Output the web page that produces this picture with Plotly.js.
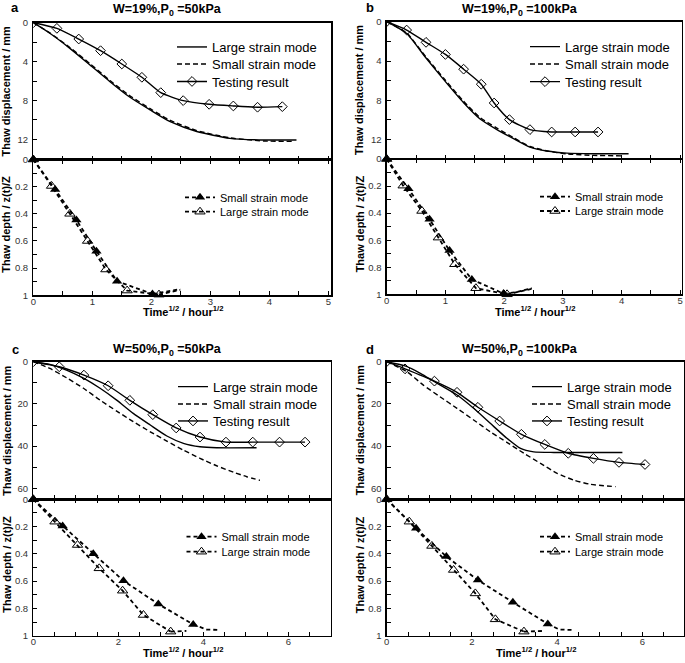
<!DOCTYPE html>
<html><head><meta charset="utf-8">
<script src="https://cdn.plot.ly/plotly-3.0.1.min.js"></script>
<style>html,body{margin:0;padding:0;background:#fff}#chart{width:685px;height:663px}</style>
</head><body><div id="chart"></div>
<script>
// ================= DATA =================
// Panel a: W=19%, P0=50kPa
const a_top_large_x = [0,0.28,0.62,0.96,1.30,1.62,1.98,2.32,2.77,3.33,3.9,4.46];
const a_top_large_y = [0,1.09,2.64,4.35,6.07,7.6,8.98,10.19,11.2,11.9,12.07,12.07];
const a_top_small_x = [0,0.28,0.62,0.96,1.30,1.62,1.98,2.32,2.77,3.33,3.9,4.41];
const a_top_small_y = [0,1.05,2.55,4.22,5.95,7.45,8.85,10.05,11.1,11.85,12.17,12.22];
const a_test_x = [0,0.40,0.77,1.14,1.50,1.84,2.16,2.54,2.98,3.39,3.80,4.22];
const a_test_y = [0,0.58,1.68,2.88,4.25,5.62,7.2,8.02,8.4,8.57,8.7,8.64];
const a_bot_small_x = [0,0.37,0.73,1.07,1.42,2.02];
const a_bot_small_y = [0,0.22,0.445,0.675,0.897,0.99];
const a_bot_small_ext_x = [2.02,2.25,2.49];
const a_bot_small_ext_y = [0.99,0.975,0.955];
const a_bot_large_x = [0,0.31,0.62,0.92,1.23,1.59,2.13];
const a_bot_large_y = [0,0.195,0.40,0.60,0.81,0.965,0.995];
const a_bot_large_ext_x = [2.13,2.49];
const a_bot_large_ext_y = [0.995,0.96];

// Panel b: W=19%, P0=100kPa
const b_top_large_x = [0,0.34,0.67,1.0,1.31,1.59,1.87,2.16,2.44,2.73,3.07,3.52,4.12];
const b_top_large_y = [0,1.2,3.7,6.1,8.25,9.9,10.95,11.9,12.76,13.16,13.37,13.43,13.43];
const b_top_small_x = [0,0.34,0.67,1.0,1.31,1.59,1.87,2.16,2.44,2.73,3.07,3.52,4.03];
const b_top_small_y = [0,1.15,3.6,5.95,8.1,9.75,10.8,11.8,12.7,13.15,13.45,13.6,13.65];
const b_test_x = [0,0.34,0.67,1.0,1.31,1.61,1.83,2.09,2.44,2.81,3.21,3.6];
const b_test_y = [0,0.85,2.1,3.33,4.83,6.36,8.27,9.96,10.98,11.22,11.22,11.22];
const b_bot_small_x = [0,0.37,0.73,1.07,1.45,1.99];
const b_bot_small_y = [0,0.22,0.446,0.677,0.89,0.995];
const b_bot_small_ext_x = [1.99,2.2,2.47];
const b_bot_small_ext_y = [0.995,0.985,0.955];
const b_bot_large_x = [0,0.28,0.6,0.88,1.16,1.52,2.05];
const b_bot_large_y = [0,0.197,0.384,0.581,0.778,0.955,1.0];
const b_bot_large_ext_x = [2.05,2.47];
const b_bot_large_ext_y = [1.0,0.96];

// Panel c: W=50%, P0=50kPa
const c_top_large_x = [0,0.39,0.78,1.18,1.57,1.96,2.35,2.75,3.14,3.53,3.92,4.31,5.25];
const c_top_large_y = [0,1.3,3.95,7.8,12.6,18.2,24.5,30,35.2,38.7,40.3,40.8,40.8];
const c_top_small_x = [0,0.39,0.78,1.18,1.57,1.96,2.35,2.75,3.14,3.53,3.92,4.31,4.71,5.02,5.33];
const c_top_small_y = [0,3.2,7.6,12.6,18.2,23.4,28.4,33.2,37.6,41.9,45.8,49.3,52.4,54.5,56.2];
const c_test_x = [0,0.61,1.19,1.76,2.27,2.81,3.36,3.92,4.53,5.16,5.79,6.39];
const c_test_y = [0,2.4,6.35,11.4,18.3,25.1,31.4,35.7,38.1,38.1,38.1,38.1];
const c_bot_small_x = [0,0.69,1.41,2.12,2.94,3.76];
const c_bot_small_y = [0,0.196,0.40,0.597,0.768,0.917];
const c_bot_small_ext_x = [3.76,4.08,4.39];
const c_bot_small_ext_y = [0.917,0.955,0.958];
const c_bot_large_x = [0,0.51,1.04,1.55,2.1,2.59,3.23];
const c_bot_large_y = [0,0.164,0.335,0.506,0.67,0.848,0.97];
const c_bot_large_ext_x = [3.23,3.6];
const c_bot_large_ext_y = [0.97,0.965];

// Panel d: W=50%, P0=100kPa
const d_top_large_x = [0,0.43,0.8,1.12,1.65,2.04,2.43,2.82,3.14,3.45,3.92,5.53];
const d_top_large_y = [0,2.0,5.6,9.5,15.8,22.1,29.2,36.3,41.1,42.7,43,43];
const d_top_small_x = [0,0.47,0.86,1.25,1.65,2.04,2.43,2.82,3.22,3.61,4.0,4.39,4.78,5.37];
const d_top_small_y = [0,4.7,11.1,16.6,22.1,27.6,33.2,38.2,43.4,48.2,52.9,56.1,58.1,59.2];
const d_test_x = [0,0.43,1.12,1.65,2.14,2.65,3.16,3.71,4.26,4.85,5.45,6.06];
const d_test_y = [0,3.4,9.2,14.5,21.6,28.1,34.4,39.2,43.4,45.8,47.7,48.7];
const d_bot_small_x = [0,0.69,1.4,2.14,2.96,3.78];
const d_bot_small_y = [0,0.213,0.42,0.592,0.755,0.914];
const d_bot_small_ext_x = [3.78,4.05,4.39];
const d_bot_small_ext_y = [0.914,0.955,0.958];
const d_bot_large_x = [0,0.53,1.06,1.57,2.08,2.55,3.22];
const d_bot_large_y = [0,0.164,0.342,0.518,0.69,0.88,0.97];
const d_bot_large_ext_x = [3.22,3.7];
const d_bot_large_ext_y = [0.97,0.965];

// Tick definitions
const ticks_x5 = [0,0.5,1,1.5,2,2.5,3,3.5,4,4.5,5];
const labels_x5 = ['0','','1','','2','','3','','4','','5'];
const ticks_x7 = [0,0.5,1,1.5,2,2.5,3,3.5,4,4.5,5,5.5,6,6.5,7];
const labels_x7 = ['0','','','','2','','','','4','','','','6','',''];
const ticks_y14 = [0,2,4,6,8,10,12,14];
const labels_y14 = ['0','','4','','8','','12',''];
const ticks_y60 = [0,10,20,30,40,50,60];
const labels_y60 = ['0','','20','','40','','60'];
const ticks_depth = [0,0.1,0.2,0.3,0.4,0.5,0.6,0.7,0.8,0.9,1];
const labels_depth = ['0','','0.2','','0.4','','0.6','','0.8','','1'];

const panel_titles = ['W=19%,P<sub>0</sub> =50kPa','W=19%,P<sub>0</sub> =100kPa','W=50%,P<sub>0</sub> =50kPa','W=50%,P<sub>0</sub> =100kPa'];
const panel_letters = ['a','b','c','d'];
const name_large = 'Large strain mode';
const name_small = 'Small strain mode';
const name_test = 'Testing result';
const ytitle_top = 'Thaw displacement / mm';
const ytitle_bot = 'Thaw depth / z(t)/Z';
const xtitle = 'Time<sup>1/2</sup> / hour<sup>1/2</sup>';

// ================= LAYOUT GEOMETRY (pixels) =================
const W = 685, H = 663;
const px = v => v / W;
const py = v => 1 - v / H;
const FONT = 'Liberation Sans, Arial, sans-serif';
const DASH_TOP = '5px,3px';
const DASH_BOT = '4px,3px';

const data = {
  a: {tl:[a_top_large_x,a_top_large_y], ts:[a_top_small_x,a_top_small_y], tt:[a_test_x,a_test_y],
      bs:[a_bot_small_x,a_bot_small_y], bse:[a_bot_small_ext_x,a_bot_small_ext_y],
      bl:[a_bot_large_x,a_bot_large_y], ble:[a_bot_large_ext_x,a_bot_large_ext_y]},
  b: {tl:[b_top_large_x,b_top_large_y], ts:[b_top_small_x,b_top_small_y], tt:[b_test_x,b_test_y],
      bs:[b_bot_small_x,b_bot_small_y], bse:[b_bot_small_ext_x,b_bot_small_ext_y],
      bl:[b_bot_large_x,b_bot_large_y], ble:[b_bot_large_ext_x,b_bot_large_ext_y]},
  c: {tl:[c_top_large_x,c_top_large_y], ts:[c_top_small_x,c_top_small_y], tt:[c_test_x,c_test_y],
      bs:[c_bot_small_x,c_bot_small_y], bse:[c_bot_small_ext_x,c_bot_small_ext_y],
      bl:[c_bot_large_x,c_bot_large_y], ble:[c_bot_large_ext_x,c_bot_large_ext_y]},
  d: {tl:[d_top_large_x,d_top_large_y], ts:[d_top_small_x,d_top_small_y], tt:[d_test_x,d_test_y],
      bs:[d_bot_small_x,d_bot_small_y], bse:[d_bot_small_ext_x,d_bot_small_ext_y],
      bl:[d_bot_large_x,d_bot_large_y], ble:[d_bot_large_ext_x,d_bot_large_ext_y]}
};

const geo = [
  {k:'a', x0:33.3, x1:331.3, xr:5.05, xt:ticks_x5, xl:labels_x5, top0:22.7, mid:159.5, bot:295.3, yr:14.08, yt:ticks_y14, yl:labels_y14,
   titleX:167, titleY:10, letX:15, letY:8, xtY:311,
   legT:{sx:177, ys:[47,64,81.5]}, legB:{cx:200, ys:[197.3,211.7]}},
  {k:'b', x0:386.7, x1:682.0, xr:5.03, xt:ticks_x5, xl:labels_x5, top0:21.7, mid:159, bot:294.3, yr:13.97, yt:ticks_y14, yl:labels_y14,
   titleX:519.5, titleY:10, letX:370, letY:8, xtY:311,
   legT:{sx:530, ys:[46.7,64,81.7]}, legB:{cx:555, ys:[196.7,211]}},
  {k:'c', x0:33.3, x1:331, xr:7.0, xt:ticks_x7, xl:labels_x7, top0:361.7, mid:499.3, bot:635.7, yr:65.2, yt:ticks_y60, yl:labels_y60,
   titleX:167, titleY:350, letX:15, letY:349, xtY:652,
   legT:{sx:178, ys:[386.7,404,421]}, legB:{cx:201.5, ys:[536.7,551.7]}},
  {k:'d', x0:386.7, x1:684.2, xr:6.98, xt:ticks_x7, xl:labels_x7, top0:361.7, mid:499.3, bot:635.7, yr:65.2, yt:ticks_y60, yl:labels_y60,
   titleX:519.5, titleY:350, letX:370, letY:349, xtY:652,
   legT:{sx:532, ys:[386.7,404,421]}, legB:{cx:555, ys:[536.7,551.7]}}
];

const traces = [];
const layout = {
  width: W, height: H,
  margin: {l:0, r:0, t:0, b:0},
  paper_bgcolor: '#fff', plot_bgcolor: 'rgba(0,0,0,0)',
  font: {family: FONT, color: '#000'},
  showlegend: true,
  annotations: []
};

let legN = 1;
function legName() { const n = legN++; return n === 1 ? 'legend' : 'legend' + n; }
function addLegend(name, xPix, yPix, size) {
  layout[name] = {x: px(xPix), y: py(yPix), xanchor: 'left', yanchor: 'middle',
    bgcolor: 'rgba(0,0,0,0)', borderwidth: 0, font: {family: FONT, size: size, color: '#000'},
    itemwidth: 30, tracegroupgap: 0};
}

geo.forEach((g, i) => {
  const D = data[g.k];
  const xa = 2*i + 1, xb = 2*i + 2;
  const xaN = 'xaxis' + (xa === 1 ? '' : xa), xbN = 'xaxis' + xb;
  const yaN = 'yaxis' + (xa === 1 ? '' : xa), ybN = 'yaxis' + xb;
  const xaR = 'x' + (xa === 1 ? '' : xa), xbR = 'x' + xb;
  const yaR = 'y' + (xa === 1 ? '' : xa), ybR = 'y' + xb;
  const common = {showgrid:false, zeroline:false, showline:true, linecolor:'#000', linewidth:1.3,
    ticks:'inside', ticklen:4, tickwidth:1, tickcolor:'#000', tickmode:'array',
    tickfont:{family: FONT, size: 9.5, color:'#333'}, fixedrange:true};
  layout[xaN] = Object.assign({}, common, {domain:[px(g.x0), px(g.x1)], range:[0, g.xr], anchor: yaR,
    tickvals: g.xt, ticktext: g.xt.map(()=>''), showticklabels:false, mirror:true});
  layout[xbN] = Object.assign({}, common, {domain:[px(g.x0), px(g.x1)], range:[0, g.xr], anchor: ybR,
    tickvals: g.xt, ticktext: g.xl, mirror:'ticks', ticklabelstandoff: -3});
  layout[yaN] = Object.assign({}, common, {domain:[py(g.mid), py(g.top0)], range:[g.yr, 0], anchor: xaR,
    tickvals: g.yt, ticktext: g.yl, mirror:true, ticklabelstandoff: 2});
  layout[ybN] = Object.assign({}, common, {domain:[py(g.bot), py(g.mid)], range:[1, 0], anchor: xbR,
    tickvals: ticks_depth, ticktext: labels_depth, mirror:true, ticklabelstandoff: 2});

  // top legends: one legend per entry for exact placement
  const l1 = legName(), l2 = legName(), l3 = legName();
  addLegend(l1, g.legT.sx - 5, g.legT.ys[0], 13);
  addLegend(l2, g.legT.sx - 5, g.legT.ys[1], 13);
  addLegend(l3, g.legT.sx - 5, g.legT.ys[2], 13);
  traces.push({x:D.tl[0], y:D.tl[1], xaxis:xaR, yaxis:yaR, mode:'lines', name:name_large, legend:l1,
    line:{color:'#000', width:1.4, shape:'spline', smoothing:0.6}});
  traces.push({x:D.ts[0], y:D.ts[1], xaxis:xaR, yaxis:yaR, mode:'lines', name:name_small, legend:l2,
    line:{color:'#000', width:1.4, dash:DASH_TOP, shape:'spline', smoothing:0.6}});
  traces.push({x:D.tt[0], y:D.tt[1], xaxis:xaR, yaxis:yaR, mode:'lines+markers', name:name_test, legend:l3,
    line:{color:'#000', width:1.4, shape:'spline', smoothing:0.6},
    marker:{symbol:'diamond-open', size:7.5, color:'#000', line:{width:1, color:'#000'}}});

  // bottom legends
  const l4 = legName(), l5 = legName();
  addLegend(l4, g.legB.cx - 20, g.legB.ys[0], 11);
  addLegend(l5, g.legB.cx - 20, g.legB.ys[1], 11);
  traces.push({x:D.bse[0], y:D.bse[1], xaxis:xbR, yaxis:ybR, mode:'lines', showlegend:false,
    line:{color:'#000', width:1.8, dash:DASH_BOT}});
  traces.push({x:D.ble[0], y:D.ble[1], xaxis:xbR, yaxis:ybR, mode:'lines', showlegend:false,
    line:{color:'#000', width:1.8, dash:DASH_BOT}});
  traces.push({x:D.bl[0], y:D.bl[1], xaxis:xbR, yaxis:ybR, mode:'lines+markers', name:name_large, legend:l5,
    line:{color:'#000', width:1.8, dash:DASH_BOT},
    marker:{symbol:'triangle-up-open', size:9, color:'#000', line:{width:1, color:'#000'}}, cliponaxis:false});
  traces.push({x:D.bs[0], y:D.bs[1], xaxis:xbR, yaxis:ybR, mode:'lines+markers', name:name_small, legend:l4,
    line:{color:'#000', width:1.8, dash:DASH_BOT},
    marker:{symbol:'triangle-up', size:9, color:'#000'}, cliponaxis:false});

  // text annotations
  layout.annotations.push({xref:'paper', yref:'paper', x:px(g.titleX), y:py(g.titleY), text:'<b>'+panel_titles[i]+'</b>',
    showarrow:false, xanchor:'center', yanchor:'middle', font:{family:FONT, size:12.5, color:'#000'}});
  layout.annotations.push({xref:'paper', yref:'paper', x:px(g.letX), y:py(g.letY), text:'<b>'+panel_letters[i]+'</b>',
    showarrow:false, xanchor:'center', yanchor:'middle', font:{family:FONT, size:13, color:'#000'}});
  layout.annotations.push({xref:'paper', yref:'paper', x:px(g.x0 - 27), y:py((g.top0 + g.mid)/2), text:'<b>'+ytitle_top+'</b>',
    textangle:-90, showarrow:false, xanchor:'center', yanchor:'middle', font:{family:FONT, size:11, color:'#000'}});
  layout.annotations.push({xref:'paper', yref:'paper', x:px(g.x0 - 27), y:py((g.mid + g.bot)/2 - 3), text:'<b>'+ytitle_bot+'</b>',
    textangle:-90, showarrow:false, xanchor:'center', yanchor:'middle', font:{family:FONT, size:11, color:'#000'}});
  layout.annotations.push({xref:'paper', yref:'paper', x:px((g.x0 + g.x1)/2 + 1), y:py(g.xtY), text:'<b>'+xtitle+'</b>',
    showarrow:false, xanchor:'center', yanchor:'middle', font:{family:FONT, size:11, color:'#000'}});
});

Plotly.newPlot('chart', traces, layout, {displayModeBar:false, staticPlot:true});
</script>
</body></html>
